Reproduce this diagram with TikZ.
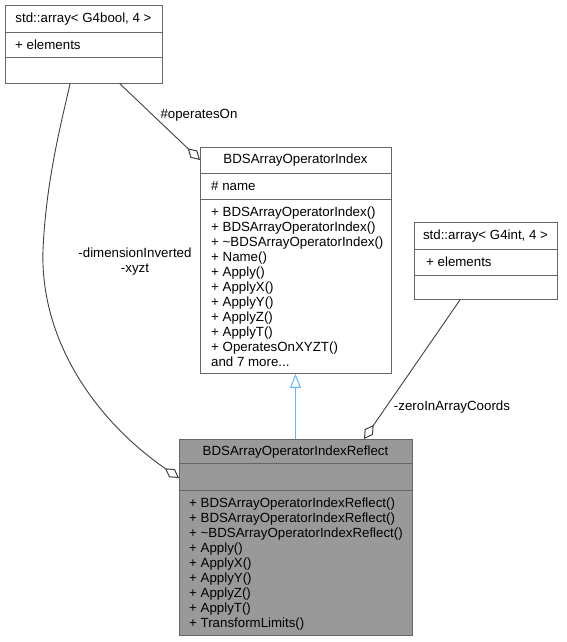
\documentclass[tikz,border=0pt]{standalone}
\usepackage{fontspec}
\setmainfont{Liberation Sans}
\usetikzlibrary{arrows.meta,calc}
\definecolor{edgegray}{HTML}{666666}
\definecolor{fillgray}{HTML}{999999}
\definecolor{inhblue}{HTML}{63B8FF}
\definecolor{linkgray}{HTML}{404040}
\tikzset{
  box/.style={draw=edgegray, line width=0.9pt, inner sep=0pt, anchor=north west},
  sep/.style={draw=edgegray, line width=0.9pt},
  hdr/.style={inner sep=0pt, font=\fontsize{13.3}{15}\selectfont},
  mem/.style={inner sep=0pt, anchor=north west, align=left, font=\fontsize{13.3}{15}\selectfont},
  lbl/.style={inner sep=0pt, align=center, font=\fontsize{13.3}{15}\selectfont},
  assoc/.style={draw=linkgray, line width=0.9pt, {Diamond[open,length=17pt,width=10pt,line width=1pt]}-},
  inherit/.style={draw=inhblue, line width=1.1pt, {Triangle[open,length=14pt,width=11pt,line width=1pt]}-}
}
\begin{document}
\begin{tikzpicture}[x=1pt,y=-1pt]
\useasboundingbox (0,0) rectangle (566,642);

% Box 1: std::array< G4bool, 4 >
\node[box, minimum width=157pt, minimum height=78pt] (b1) at (5,5) {};
\draw[sep] (5,32) -- (162,32);
\draw[sep] (5,57) -- (162,57);
\node[hdr] (b1h) at (83.5,19) {std::array< G4bool, 4 >};
\node[mem] (b1a) at (15,39.5) {+ elements};

% Box 2: BDSArrayOperatorIndex
\node[box, minimum width=191pt, minimum height=226pt] (b2) at (200,147) {};
\draw[sep] (200,173) -- (391,173);
\draw[sep] (200,199) -- (391,199);
\node[hdr] (b2h) at (295.5,160.5) {BDSArrayOperatorIndex};
\node[mem] (b2a) at (211,181) {\# name};
\node[mem] (b2m) at (211,206.5) {+ BDSArrayOperatorIndex()\\+ BDSArrayOperatorIndex()\\+ \textasciitilde BDSArrayOperatorIndex()\\+ Name()\\+ Apply()\\+ ApplyX()\\+ ApplyY()\\+ ApplyZ()\\+ ApplyT()\\+ OperatesOnXYZT()\\and 7 more...};

% Box 3: std::array< G4int, 4 >
\node[box, minimum width=143pt, minimum height=77pt] (b3) at (414,222) {};
\draw[sep] (414,249) -- (557,249);
\draw[sep] (414,275) -- (557,275);
\node[hdr] (b3h) at (485.5,236) {std::array< G4int, 4 >};
\node[mem] (b3a) at (426,257) {+ elements};

% Box 4: BDSArrayOperatorIndexReflect
\node[box, fill=fillgray, minimum width=233pt, minimum height=196pt] (b4) at (179,439) {};
\draw[sep] (179,463) -- (412,463);
\draw[sep] (179,490) -- (412,490);
\node[hdr] (b4h) at (295.5,452) {BDSArrayOperatorIndexReflect};
\node[mem] (b4m) at (189,497.5) {+ BDSArrayOperatorIndexReflect()\\+ BDSArrayOperatorIndexReflect()\\+ \textasciitilde BDSArrayOperatorIndexReflect()\\+ Apply()\\+ ApplyX()\\+ ApplyY()\\+ ApplyZ()\\+ ApplyT()\\+ TransformLimits()};

% Connectors
\coordinate (b1o) at ($(b1.south west)+(115,0)$);
\coordinate (b1d) at ($(b1.south west)+(65,0)$);
\coordinate (b2in) at ($(b2.north west)+(0,13)$);
\coordinate (b4in) at ($(b4.north west)+(0,39)$);
\coordinate (b4top) at ($(b4.north west)+(185,0)$);
\coordinate (b3out) at ($(b3.south west)+(46,0)$);

\draw[assoc] (b2in) -- (b1o);
\draw[assoc] (b4in) .. controls (95,420) and (40,340) .. (43,250) .. controls (46,180) and (62,120) .. (b1d);
\draw[assoc] (b4top) -- (b3out);
\draw[inherit] (b2.south -| b4h) -- (b4.north -| b4h);

% Labels
\node[lbl] (l1) at (199,115) {\#operatesOn};
\node[lbl] (l2) at (135,262) {-dimensionInverted\\-xyzt};
\node[lbl] (l3) at (452,407) {-zeroInArrayCoords};
\end{tikzpicture}
\end{document}
